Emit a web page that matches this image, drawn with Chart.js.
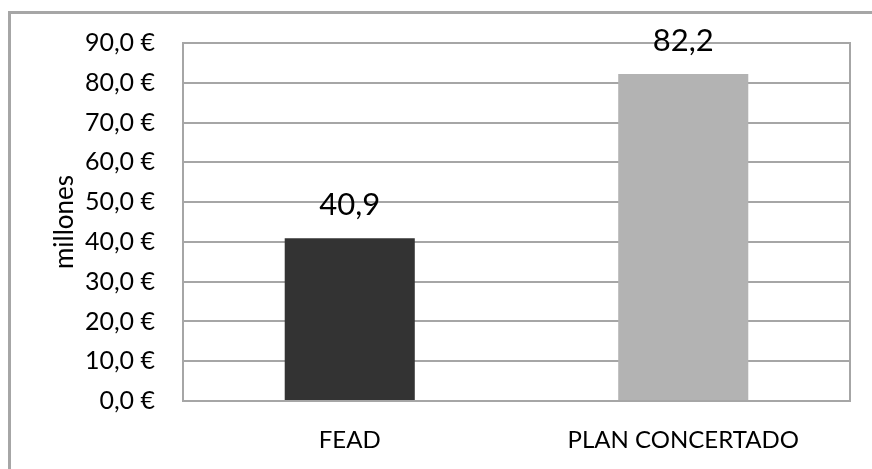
<!DOCTYPE html>
<html lang="es">
    <head>
        <meta charset="UTF-8" />
        <title>FEAD vs Plan Concertado</title>
        <script src="https://cdn.jsdelivr.net/npm/chart.js"></script>
        <style>
            body { margin: 0; background: #fff; }
            #wrap { width: 872px; height: 469px; }
        </style>
    </head>
    <body>
        <div id="wrap"><canvas id="fondosChart" width="872" height="469"></canvas></div>
        <script>
            const labels = ["FEAD", "PLAN CONCERTADO"];
            const importes = [40.9, 82.2];
            const colores = ["#333333", "#b3b3b3"];

            const gris = "#a6a6a6";
            const fuente = "Lato, sans-serif";

            const fmt = (v, dec) => v.toFixed(dec).replace(".", ",");

            // marco exterior, borde derecho del area y etiquetas de datos
            const extras = {
                id: "extras",
                beforeDraw(chart) {
                    const ctx = chart.ctx;
                    ctx.save();
                    ctx.strokeStyle = gris;
                    ctx.lineWidth = 3;
                    ctx.strokeRect(9.5, 12.5, 1000, 1000);
                    ctx.restore();
                },
                afterDatasetsDraw(chart) {
                    const ctx = chart.ctx;
                    const a = chart.chartArea;
                    ctx.save();
                    ctx.strokeStyle = gris;
                    ctx.lineWidth = 2;
                    ctx.beginPath();
                    ctx.moveTo(a.right, a.top - 1);
                    ctx.lineTo(a.right, a.bottom + 1);
                    ctx.stroke();

                    ctx.fillStyle = "#000";
                    ctx.font = "31px " + fuente;
                    ctx.textAlign = "center";
                    ctx.textBaseline = "alphabetic";
                    const meta = chart.getDatasetMeta(0);
                    meta.data.forEach((bar, i) => {
                        ctx.fillText(fmt(importes[i], 1), bar.x, bar.y - 23);
                    });
                    ctx.restore();
                },
            };

            const ctx = document.getElementById("fondosChart").getContext("2d");
            const chart = new Chart(ctx, {
                type: "bar",
                data: {
                    labels: labels,
                    datasets: [
                        {
                            label: "millones",
                            data: importes,
                            backgroundColor: colores,
                            borderWidth: 0,
                            barPercentage: 0.39,
                            categoryPercentage: 1,
                        },
                    ],
                },
                options: {
                    responsive: false,
                    animation: false,
                    layout: {
                        padding: { left: 10, top: 43, right: 22, bottom: 0 },
                    },
                    plugins: {
                        legend: { display: false },
                        tooltip: { enabled: false },
                    },
                    scales: {
                        x: {
                            grid: { display: false, drawTicks: false },
                            border: { color: gris, width: 2 },
                            ticks: {
                                color: "#000",
                                padding: 25,
                                font: { family: fuente, size: 24 },
                            },
                            afterFit: (s) => { s.height = 68; },
                        },
                        y: {
                            min: 0,
                            max: 90,
                            grid: { color: gris, lineWidth: 2, drawTicks: false },
                            border: { color: gris, width: 2 },
                            ticks: {
                                stepSize: 10,
                                color: "#000",
                                padding: 28,
                                font: { family: fuente, size: 25 },
                                callback: (v) => fmt(v, 1) + " €",
                            },
                            title: {
                                display: true,
                                text: "millones",
                                color: "#000",
                                padding: { top: 39, bottom: 0 },
                                font: { family: fuente, size: 26 },
                            },
                            afterFit: (s) => { s.width = 173; },
                        },
                    },
                },
                plugins: [extras],
            });
        </script>
    </body>
</html>
